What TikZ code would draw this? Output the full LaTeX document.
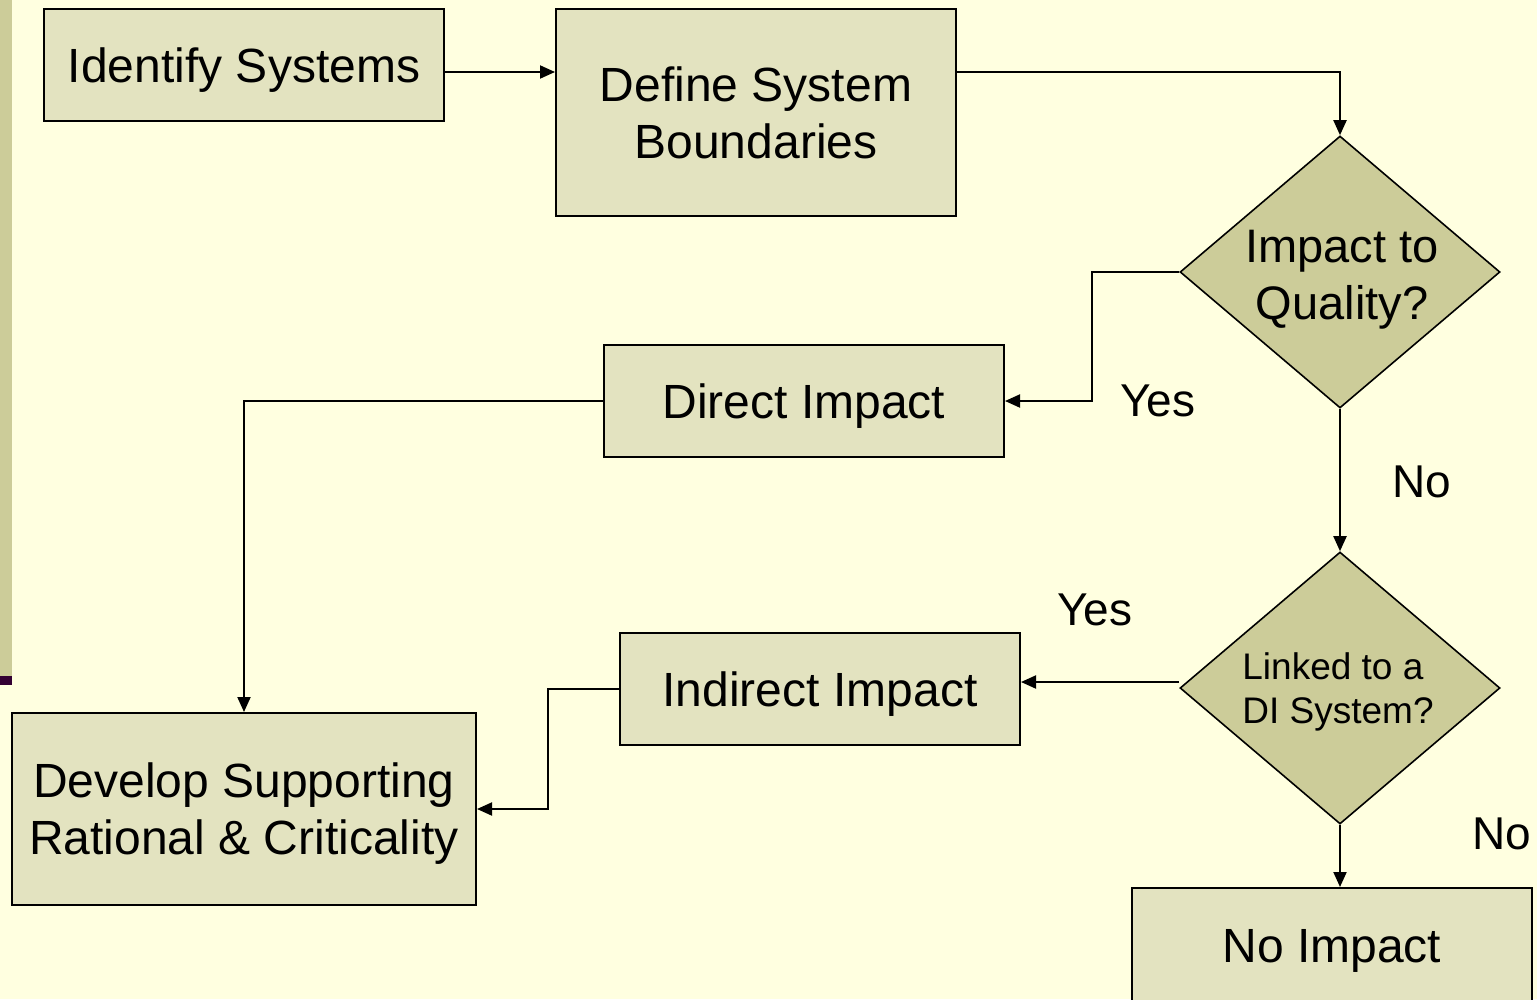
\documentclass[tikz,border=0pt]{standalone}
\usepackage{fontspec}
\setmainfont{Liberation Sans}
\usetikzlibrary{shapes.geometric,arrows.meta}
\definecolor{bg}{HTML}{FFFFE0}
\definecolor{boxfill}{HTML}{E3E3C0}
\definecolor{dfill}{HTML}{CCCC99}
\definecolor{barcol}{HTML}{CCCC99}
\definecolor{plum}{HTML}{330033}
\tikzset{
  stepbox/.style={draw=black, line width=2pt, fill=boxfill, inner sep=0pt, align=center,
    text depth=0pt, font=\fontsize{48}{57}\selectfont},
  decis/.style={draw=black, line width=1.6pt, fill=dfill, shape=diamond, inner sep=0pt,
    minimum width=320pt, minimum height=272pt},
  dtext/.style={text depth=0pt},
  conn/.style={draw=black, line width=2pt, -{Triangle[length=15pt,width=13pt]}},
  lbl/.style={font=\fontsize{46}{55}\selectfont, inner sep=0pt}
}
\begin{document}
\begin{tikzpicture}[x=1pt,y=-1pt]
\useasboundingbox (0,0) rectangle (1537,999);
\fill[bg] (0,0) rectangle (1537,999);
\fill[barcol] (0,0) rectangle (12,676);
\fill[plum] (0,676) rectangle (12,685);

\node[stepbox, minimum width=400pt, minimum height=112pt] (id) at (244,65) {Identify Systems};
\node[stepbox, minimum width=400pt, minimum height=207pt] (def) at (756,112.5) {Define System\\Boundaries};
\node[decis, label={[dtext, align=center, yshift=-3pt, xshift=2pt, font=\fontsize{47}{57}\selectfont]center:Impact to\\Quality?}] (q) at (1340,272) {};
\node[stepbox, minimum width=400pt, minimum height=112pt] (di) at (804,401) {Direct Impact};
\node[decis, label={[dtext, align=left, xshift=-2pt, font=\fontsize{37}{44}\selectfont]center:Linked to a\\DI System?}] (l) at (1340,688) {};
\node[stepbox, minimum width=400pt, minimum height=112pt] (ii) at (820,689) {Indirect Impact};
\node[stepbox, minimum width=464pt, minimum height=192pt] (dev) at (244,809) {Develop Supporting\\Rational \& Criticality};
\node[stepbox, minimum width=400pt, minimum height=116pt] (ni) at (1332,946) {No Impact};

\node[lbl] (y1) at (1158,401) {Yes};
\node[lbl] (n1) at (1422,482) {No};
\node[lbl] (y2) at (1095,610) {Yes};
\node[lbl] (n2) at (1502,834) {No};

\coordinate (c1) at (1340,72);
\coordinate (c2) at (1092,272);
\coordinate (c3) at (1092,401);
\coordinate (c4) at (244,401);
\coordinate (c5) at (548,689);
\coordinate (c6) at (548,809);

\draw[conn] (id.east |- 0,72) -- (def.west |- 0,72);
\draw[conn] (def.east |- c1) -- (c1) -- (q.north);
\draw[conn] (q.west) -- (c2) -- (c3) -- (di.east);
\draw[conn] (di.west) -- (c4) -- (dev.north);
\draw[conn] (q.south) -- (l.north);
\draw[conn] (l.west |- 0,682) -- (ii.east |- 0,682);
\draw[conn] (ii.west) -- (c5) -- (c6) -- (dev.east);
\draw[conn] (l.south) -- (ni.north -| l.south);
\end{tikzpicture}
\end{document}
